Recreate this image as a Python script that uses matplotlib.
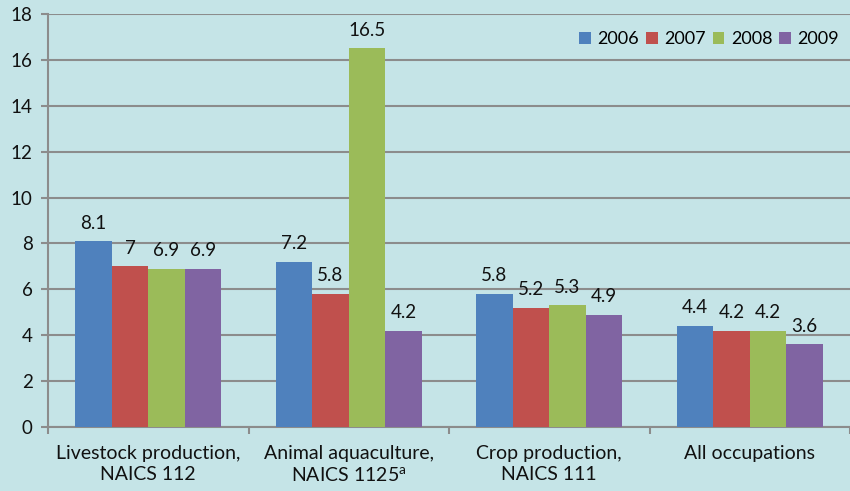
import numpy as np
import matplotlib
matplotlib.use("Agg")
import matplotlib.pyplot as plt

# Data
categories = ["Livestock production,\nNAICS 112",
              "Animal aquaculture,\nNAICS 1125$^{\\mathregular{a}}$",
              "Crop production,\nNAICS 111",
              "All occupations"]
years = ["2006", "2007", "2008", "2009"]
v2006 = [8.1, 7.2, 5.8, 4.4]
v2007 = [7, 5.8, 5.2, 4.2]
v2008 = [6.9, 16.5, 5.3, 4.2]
v2009 = [6.9, 4.2, 4.9, 3.6]
labels = [["8.1", "7.2", "5.8", "4.4"],
          ["7", "5.8", "5.2", "4.2"],
          ["6.9", "16.5", "5.3", "4.2"],
          ["6.9", "4.2", "4.9", "3.6"]]

colors = ["#4f81bd", "#c0504d", "#9bbb59", "#8064a2"]
bg = "#c5e4e7"
gray = "#8c8c8c"

plt.rcParams['font.family'] = ['Lato', 'DejaVu Sans']

fig = plt.figure(figsize=(8.5, 4.91), dpi=100, facecolor=bg)
ax = fig.add_axes([48/850, 1-427/491, 802/850, (427-14)/491])
ax.set_facecolor(bg)

series = [v2006, v2007, v2008, v2009]
x = np.arange(len(categories))
w = 0.182
for i, vals in enumerate(series):
	pos = x + (i - 1.5) * w
	ax.bar(pos, vals, width=w, color=colors[i], label=years[i], zorder=3)
	for p, v, t in zip(pos, vals, labels[i]):
		ax.text(p, v + 0.42, t, ha="center", va="bottom", fontsize=13.5, color="#111111", zorder=4)

ax.set_xlim(-0.5, len(categories) - 0.5)
ax.set_ylim(0, 18)
ax.set_yticks(np.arange(0, 19, 2))
ax.grid(axis="y", color=gray, linewidth=1.5, zorder=0)
ax.set_axisbelow(True)

ax.set_xticks(x)
ax.set_xticklabels(categories, fontsize=14, color="#111111", linespacing=1.3)
ax.set_xticks(np.arange(-0.5, len(categories), 1), minor=True)
ax.tick_params(axis="x", which="major", length=0, pad=13)
ax.tick_params(axis="x", which="minor", length=5, color=gray, width=1.5)
ax.tick_params(axis="y", length=5, color=gray, width=1.5, labelsize=13.5, labelcolor="#111111", pad=6)

for s in ["top", "right"]:
	ax.spines[s].set_visible(False)
for s in ["left", "bottom"]:
	ax.spines[s].set_color(gray)
	ax.spines[s].set_linewidth(1.5)

ax.legend(loc="upper right", bbox_to_anchor=(1.0, 0.985), ncol=4, frameon=False, fontsize=13,
          handlelength=0.65, handleheight=0.65, handletextpad=0.35, columnspacing=0.4, borderaxespad=0.2)

fig.savefig("out.png", dpi=100, facecolor=bg)
